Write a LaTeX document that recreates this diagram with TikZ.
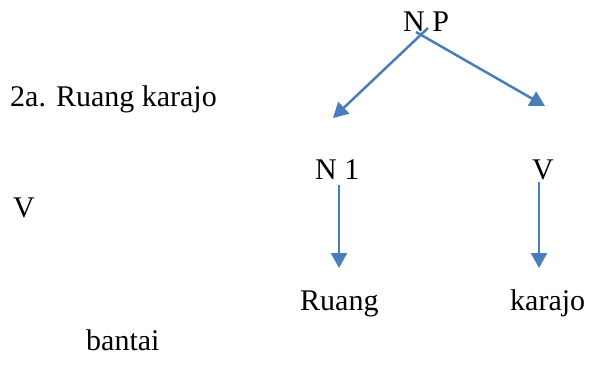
\documentclass[tikz,border=0pt]{standalone}
\usepackage{fontspec}
\setmainfont{Liberation Serif}
\usepackage{xcolor}
\usetikzlibrary{arrows.meta}
\definecolor{TreeBlue}{HTML}{4A7EBB}

\begin{document}
\begin{tikzpicture}[x=1pt, y=-1pt, every node/.style={font=\fontsize{30}{36}\selectfont, inner sep=0pt, anchor=base west}, arr/.style={-{Triangle[length=15pt,width=16pt]}, line width=2.5pt, TreeBlue}]
\useasboundingbox (0,0) rectangle (591,367);
\node (np) at (403,31) {N P};
\node (ex) at (10,106) {2a. Ruang karajo};
\node (n1) at (315,179) {N 1};
\node (v) at (532,179) {V};
\node (vl) at (13,217) {V};
\node (ruang) at (300,310) {Ruang};
\node (karajo) at (510,310) {karajo};
\node (bantai) at (86,350) {bantai};
\coordinate (lstart) at (428,28);
\coordinate (rstart) at (416,32);
\coordinate (lend) at (333,118);
\coordinate (rend) at (545,106);
\coordinate (n1start) at (339,185);
\coordinate (n1end) at (339,268);
\coordinate (vstart) at (539,182);
\coordinate (vend) at (539,268);
\draw[arr] (lstart) -- (lend);
\draw[arr] (rstart) -- (rend);
\draw[arr] (n1start) -- (n1end);
\draw[arr] (vstart) -- (vend);
\end{tikzpicture}
\end{document}
